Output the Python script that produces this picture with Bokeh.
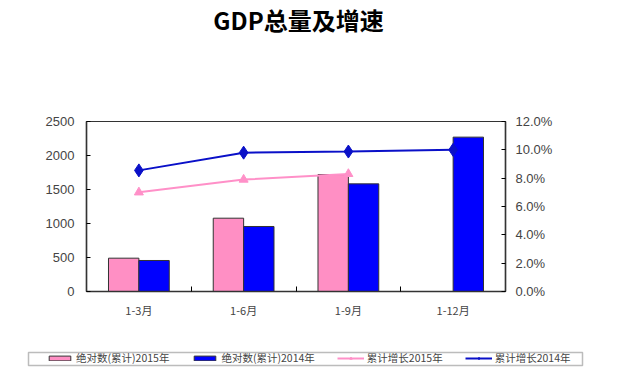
import numpy as np
from bokeh.plotting import figure
from bokeh.layouts import column
from bokeh.models import (Range1d, LinearAxis, FixedTicker, PrintfTickFormatter,
                          ColumnDataSource, Legend, LegendItem, Label, BoxAnnotation)
from bokeh.transform import dodge
from bokeh.embed import file_html
from bokeh.resources import INLINE

title_text = "GDP总量及增速"
categories = ["1-3月", "1-6月", "1-9月", "1-12月"]
abs_2015 = [490, 1078, 1720, np.nan]
abs_2014 = [456, 956, 1583, 2270]
growth_2015 = [7.0, 7.9, 8.3, np.nan]
growth_2014 = [8.55, 9.8, 9.88, 10.0]
left_ticks = [0, 500, 1000, 1500, 2000, 2500]
right_ticks = [0, 2, 4, 6, 8, 10, 12]
series_labels = ["绝对数(累计)2015年", "绝对数(累计)2014年", "累计增长2015年", "累计增长2014年"]

PINK = "#FF8FC4"
PINK_LINE = "#FF90C8"
BLUE = "#0000FF"
LINE_BLUE = "#0A10C8"
W = 612
CJK = "Noto Sans CJK SC"

# ---------- title strip ----------
tf = figure(width=W, height=60, output_backend="svg", toolbar_location=None,
            x_range=Range1d(0, W), y_range=Range1d(0, 60), frame_align=False,
            min_border_left=0, min_border_right=0, min_border_top=0, min_border_bottom=0)
tf.axis.visible = False
tf.grid.visible = False
tf.outline_line_color = None
tf.add_layout(Label(x=298, y=41, text=title_text, text_font=CJK, text_font_style="bold",
                    text_font_size="24px", text_align="center", text_baseline="middle",
                    text_color="#000000"))

# ---------- main chart ----------
xc = (np.arange(len(categories)) + 0.5).tolist()
src = ColumnDataSource(dict(x=xc, a15=abs_2015, a14=abs_2014, g15=growth_2015, g14=growth_2014))

p = figure(width=W, height=275, output_backend="svg", toolbar_location=None,
           x_range=Range1d(0, len(categories)), y_range=Range1d(0, 2500), frame_align=False,
           min_border_left=86, min_border_right=107, min_border_top=61, min_border_bottom=44)
p.extra_y_ranges = {"pct": Range1d(0, 12)}
p.xgrid.visible = False
p.ygrid.visible = False
p.outline_line_color = "#333333"
p.outline_line_width = 1.2

bw = 0.29
bar15 = dict(fill_color=PINK, line_color="#333333", line_width=1)
bar14 = dict(fill_color=BLUE, line_color="#333333", line_width=1)
p.vbar(x=dodge("x", -bw / 2), top="a15", width=bw, source=src, **bar15)
p.vbar(x=dodge("x", bw / 2), top="a14", width=bw, source=src, **bar14)

ln15 = dict(line_color=PINK_LINE, line_width=2)
mk15 = dict(marker="triangle", size=9, fill_color=PINK_LINE, line_color=PINK_LINE)
ln14 = dict(line_color=LINE_BLUE, line_width=2)
mk14 = dict(marker="diamond", size=13, fill_color=LINE_BLUE, line_color=LINE_BLUE)
p.line("x", "g15", source=src, y_range_name="pct", **ln15)
p.scatter("x", "g15", source=src, y_range_name="pct", **mk15)
p.line("x", "g14", source=src, y_range_name="pct", **ln14)
p.scatter("x", "g14", source=src, y_range_name="pct", **mk14)

xa = p.xaxis[0]
xa.ticker = FixedTicker(ticks=xc, minor_ticks=[1, 2, 3])
xa.major_label_overrides = {v: c for v, c in zip(xc, categories)}
xa.major_tick_in = 0
xa.major_tick_out = 0
xa.minor_tick_in = 5
xa.minor_tick_out = 0
xa.axis_line_color = "#333333"
xa.axis_line_width = 1.5
xa.major_label_text_font = CJK
xa.major_label_text_font_size = "11px"
xa.major_label_standoff = 10

ya = p.yaxis[0]
ya.ticker = FixedTicker(ticks=left_ticks)
ya.major_tick_in = 4
ya.major_tick_out = 0
ya.minor_tick_line_color = None
ya.axis_line_color = "#333333"
ya.axis_line_width = 1.5
ya.major_label_text_font = "Liberation Sans"
ya.major_label_text_font_size = "13px"
ya.major_label_standoff = 12

ra = LinearAxis(y_range_name="pct", ticker=FixedTicker(ticks=right_ticks),
                formatter=PrintfTickFormatter(format="%.1f%%"))
ra.major_tick_in = 4
ra.major_tick_out = 0
ra.minor_tick_line_color = None
ra.axis_line_color = "#333333"
ra.axis_line_width = 1.5
ra.major_label_text_font = "Liberation Sans"
ra.major_label_text_font_size = "13px"
ra.major_label_standoff = 10
p.add_layout(ra, "right")

# ---------- legend strip ----------
lf = figure(width=W, height=35, output_backend="svg", toolbar_location=None,
            x_range=Range1d(0, W), y_range=Range1d(0, 35), frame_align=False,
            min_border_left=0, min_border_right=0, min_border_top=0, min_border_bottom=0)
lf.axis.visible = False
lf.grid.visible = False
lf.outline_line_color = None
blank = ColumnDataSource(dict(x=[np.nan], y=[np.nan]))
g1 = lf.vbar(x="x", top="y", width=1, source=blank, **bar15)
g2 = lf.vbar(x="x", top="y", width=1, source=blank, **bar14)
g3a = lf.line("x", "y", source=blank, **ln15)
g3b = lf.scatter("x", "y", source=blank, **mk15)
g4a = lf.line("x", "y", source=blank, **ln14)
g4b = lf.scatter("x", "y", source=blank, **dict(mk14, size=10))
lf.add_layout(BoxAnnotation(left=28, right=582, bottom=5, top=18, fill_color=None,
                            line_color="#222222", line_width=1.5))
legend = Legend(items=[
    LegendItem(label=series_labels[0], renderers=[g1]),
    LegendItem(label=series_labels[1], renderers=[g2]),
    LegendItem(label=series_labels[2], renderers=[g3a, g3b]),
    LegendItem(label=series_labels[3], renderers=[g4a, g4b]),
], orientation="horizontal", location=(46, 5))
legend.label_text_font = CJK
legend.label_text_font_size = "10.5px"
legend.glyph_width = 27
legend.glyph_height = 6
legend.spacing = 22
legend.padding = 0
legend.margin = 0
legend.label_standoff = 3
legend.border_line_color = None
legend.background_fill_color = None
legend.label_height = 13
lf.add_layout(legend, "center")

layout = column(tf, p, lf, spacing=0)
open("out.html", "w").write(file_html(layout, INLINE))
